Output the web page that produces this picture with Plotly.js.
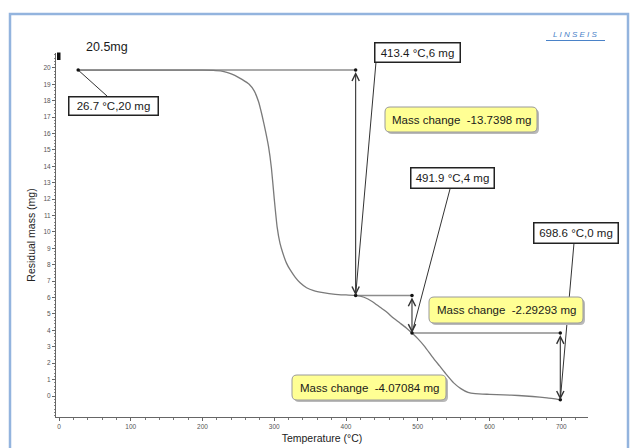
<!DOCTYPE html>
<html>
<head>
<meta charset="utf-8">
<script src="https://cdn.plot.ly/plotly-3.0.1.min.js"></script>
<style>
  html, body { margin: 0; padding: 0; background: #ffffff; }
  #chart { width: 631px; height: 448px; }
</style>
</head>
<body>
<div id="chart"></div>
<script>
// ---- data ----
const curveT = [26.7, 60, 100, 150, 200, 215, 225, 235, 245, 255, 265, 272, 278, 283, 288, 292, 296, 300, 304, 308, 312, 317, 322, 329, 336, 345, 355, 368, 385, 400, 413.4, 425, 437, 447, 457, 466, 475, 484, 491.9, 500, 510, 520, 530, 540, 550, 560, 570, 580, 600, 620, 640, 660, 680, 698.6];
const curveMass = [19.87, 19.87, 19.87, 19.87, 19.86, 19.85, 19.82, 19.72, 19.55, 19.3, 19.0, 18.6, 17.95, 17.1, 16.1, 15.2, 13.9, 12.0, 10.3, 9.3, 8.7, 8.1, 7.7, 7.25, 6.9, 6.6, 6.42, 6.3, 6.2, 6.16, 6.13, 6.02, 5.75, 5.42, 5.1, 4.75, 4.45, 4.15, 3.84, 3.5, 3.0, 2.4, 1.85, 1.3, 0.8, 0.45, 0.22, 0.14, 0.1, 0.07, 0.03, -0.03, -0.12, -0.23];

const eventT = [26.7, 413.4, 491.9, 698.6];
const eventMass = [19.87, 6.13, 3.84, -0.23];
const eventLabels = ["26.7 \u00b0C,20 mg", "413.4 \u00b0C,6 mg", "491.9 \u00b0C,4 mg", "698.6 \u00b0C,0 mg"];
const massChanges = ["-13.7398", "-2.29293", "-4.07084"];
const sampleMass = "20.5mg";

const xTicks = [0, 100, 200, 300, 400, 500, 600, 700];
const yTicks = [0, 1, 2, 3, 4, 5, 6, 7, 8, 9, 10, 11, 12, 13, 14, 15, 16, 17, 18, 19, 20];

// ---- layout geometry ----
const W = 631, H = 448;
const M = {l: 56, r: 43, t: 53, b: 31};
const xRange = [-4.2, 737.2];
const yRange = [-1.28, 20.91];
const plotW = W - M.l - M.r, plotH = H - M.t - M.b;
const pxX = px => (px - M.l) / plotW;              // pixel -> paper
const pxY = py => (H - M.b - py) / plotH;
const dX = px => xRange[0] + pxX(px) * (xRange[1] - xRange[0]); // pixel -> data
const dY = py => yRange[0] + pxY(py) * (yRange[1] - yRange[0]);

const FONT = "Liberation Sans, Arial, sans-serif";

// label boxes (center px, size, leader start)
const labelBoxes = [
  {cx: 113, cy: 105.5, w: 88, h: 17, lx: 107, ly: 96},
  {cx: 417, cy: 52, w: 84, h: 18, lx: 376, ly: 62},
  {cx: 452, cy: 178, w: 82, h: 19, lx: 450, ly: 189},
  {cx: 575.5, cy: 232.5, w: 83, h: 19, lx: 574, ly: 243}
];
const changeBoxes = [
  {cx: 461, cy: 119.5, w: 152, h: 25},
  {cx: 506, cy: 310, w: 154, h: 26},
  {cx: 369, cy: 387.5, w: 154, h: 25}
];

const traces = [];

// step reference lines (horizontal)
for (let i = 0; i < eventT.length - 1; i++) {
  traces.push({
    x: [eventT[i], eventT[i + 1]], y: [eventMass[i], eventMass[i]],
    mode: 'lines', line: {color: '#8c8c8c', width: 1.6}, hoverinfo: 'skip'
  });
}

// main TG curve
traces.push({
  x: curveT, y: curveMass, mode: 'lines',
  line: {color: '#7a7a7a', width: 1.3, shape: 'spline', smoothing: 0.5},
  hoverinfo: 'skip'
});

// leader lines from label boxes to points
labelBoxes.forEach((b, i) => {
  traces.push({
    x: [dX(b.lx), eventT[i]], y: [dY(b.ly), eventMass[i]],
    mode: 'lines', line: {color: '#333333', width: 1}, hoverinfo: 'skip'
  });
});

// point markers (curve points and step corners)
const mx = eventT.slice(), my = eventMass.slice();
for (let i = 0; i < eventT.length - 1; i++) { mx.push(eventT[i + 1]); my.push(eventMass[i]); }
traces.push({
  x: mx, y: my, mode: 'markers',
  marker: {color: '#111111', size: 3.5}, hoverinfo: 'skip'
});

const annotations = [];
// vertical double arrows
for (let i = 0; i < eventT.length - 1; i++) {
  annotations.push({
    x: eventT[i + 1], y: eventMass[i + 1], ax: eventT[i + 1], ay: eventMass[i],
    xref: 'x', yref: 'y', axref: 'x', ayref: 'y',
    text: ' ', font: {size: 1}, showarrow: true,
    arrowhead: 5, startarrowhead: 5, arrowside: 'end+start',
    arrowsize: 1.3, startarrowsize: 1.3, arrowwidth: 1.1, arrowcolor: '#333333',
    standoff: 0, startstandoff: 0
  });
}
// label boxes
labelBoxes.forEach((b, i) => {
  annotations.push({
    x: pxX(b.cx), y: pxY(b.cy), xref: 'paper', yref: 'paper',
    xanchor: 'center', yanchor: 'middle',
    text: eventLabels[i], showarrow: false,
    width: b.w, height: b.h, borderpad: 0,
    bgcolor: '#ffffff', bordercolor: '#222222', borderwidth: 1.5,
    font: {family: FONT, size: 11.5, color: '#1a1a1a'}
  });
});
// mass change text
changeBoxes.forEach((b, i) => {
  annotations.push({
    x: pxX(b.cx), y: pxY(b.cy), xref: 'paper', yref: 'paper',
    xanchor: 'center', yanchor: 'middle',
    text: 'Mass change\u00a0\u00a0' + massChanges[i] + ' mg', showarrow: false,
    font: {family: FONT, size: 11.5, color: '#1a1a1a'}
  });
});
// sample mass and logo
annotations.push({
  x: pxX(106.5), y: pxY(47), xref: 'paper', yref: 'paper',
  xanchor: 'center', yanchor: 'middle',
  text: sampleMass, showarrow: false,
  font: {family: FONT, size: 12.5, color: '#1a1a1a'}
});
annotations.push({
  x: pxX(575.5), y: pxY(35), xref: 'paper', yref: 'paper',
  xanchor: 'center', yanchor: 'middle',
  text: '<i>L I N S E I S</i>', showarrow: false,
  font: {family: FONT, size: 8, color: '#4a82c8'}
});

function roundRect(w, h, r) {
  const a = w / 2, c = h / 2;
  return `M${-a + r},${-c} H${a - r} Q${a},${-c} ${a},${-c + r} V${c - r} Q${a},${c} ${a - r},${c} ` +
         `H${-a + r} Q${-a},${c} ${-a},${c - r} V${-c + r} Q${-a},${-c} ${-a + r},${-c} Z`;
}

const shapes = [];
// outer blue frame
shapes.push({
  type: 'rect', xref: 'paper', yref: 'paper',
  x0: pxX(10), x1: pxX(628), y0: pxY(480), y1: pxY(14),
  line: {color: '#93b4de', width: 2.5}, fillcolor: 'rgba(0,0,0,0)', layer: 'below'
});
// logo underline
shapes.push({
  type: 'line', xref: 'paper', yref: 'paper',
  x0: pxX(546), x1: pxX(605), y0: pxY(40.5), y1: pxY(40.5),
  line: {color: '#4a82c8', width: 1}
});
// small black square at top of y axis
shapes.push({
  type: 'rect', xref: 'paper', yref: 'paper',
  x0: pxX(57), x1: pxX(60.5), y0: pxY(60), y1: pxY(52.5),
  line: {width: 0}, fillcolor: '#111111'
});
// yellow rounded boxes with shadow
changeBoxes.forEach(b => {
  shapes.push({
    type: 'path', xref: 'paper', yref: 'paper', xsizemode: 'pixel', ysizemode: 'pixel',
    xanchor: pxX(b.cx + 2), yanchor: pxY(b.cy + 2),
    path: roundRect(b.w, b.h, 5), fillcolor: '#b9b9b9', line: {width: 0}, layer: 'above'
  });
  shapes.push({
    type: 'path', xref: 'paper', yref: 'paper', xsizemode: 'pixel', ysizemode: 'pixel',
    xanchor: pxX(b.cx), yanchor: pxY(b.cy),
    path: roundRect(b.w, b.h, 5), fillcolor: '#ffff94', line: {color: '#9a9a9a', width: 1}, layer: 'above'
  });
});

const layout = {
  width: W, height: H,
  margin: M,
  paper_bgcolor: '#ffffff', plot_bgcolor: '#ffffff',
  showlegend: false,
  font: {family: FONT},
  xaxis: {
    range: xRange, showgrid: false, zeroline: false,
    showline: true, linecolor: '#666666', linewidth: 1,
    tickmode: 'array', tickvals: xTicks, ticktext: xTicks.map(String),
    ticks: 'outside', ticklen: 3, tickcolor: '#666666', tickwidth: 1,
    minor: {tickmode: 'linear', tick0: 0, dtick: 20, ticks: 'outside', ticklen: 2, tickcolor: '#777777'},
    tickfont: {family: FONT, size: 6.5, color: '#555555'},
    title: {text: 'Temperature (\u00b0C)', font: {family: FONT, size: 10.5, color: '#222222'}, standoff: 5}
  },
  yaxis: {
    range: yRange, showgrid: false, zeroline: false,
    showline: true, linecolor: '#666666', linewidth: 1,
    tickmode: 'array', tickvals: yTicks, ticktext: yTicks.map(String),
    ticks: 'outside', ticklen: 3, tickcolor: '#666666', tickwidth: 1,
    minor: {tickmode: 'linear', tick0: 0, dtick: 0.2, ticks: 'outside', ticklen: 1.5, tickcolor: '#888888'},
    tickfont: {family: FONT, size: 6.5, color: '#555555'},
    title: {text: 'Residual mass (mg)', font: {family: FONT, size: 10.5, color: '#222222'}, standoff: 5}
  },
  annotations: annotations,
  shapes: shapes
};

Plotly.newPlot('chart', traces, layout, {staticPlot: true, displayModeBar: false});
</script>
</body>
</html>
